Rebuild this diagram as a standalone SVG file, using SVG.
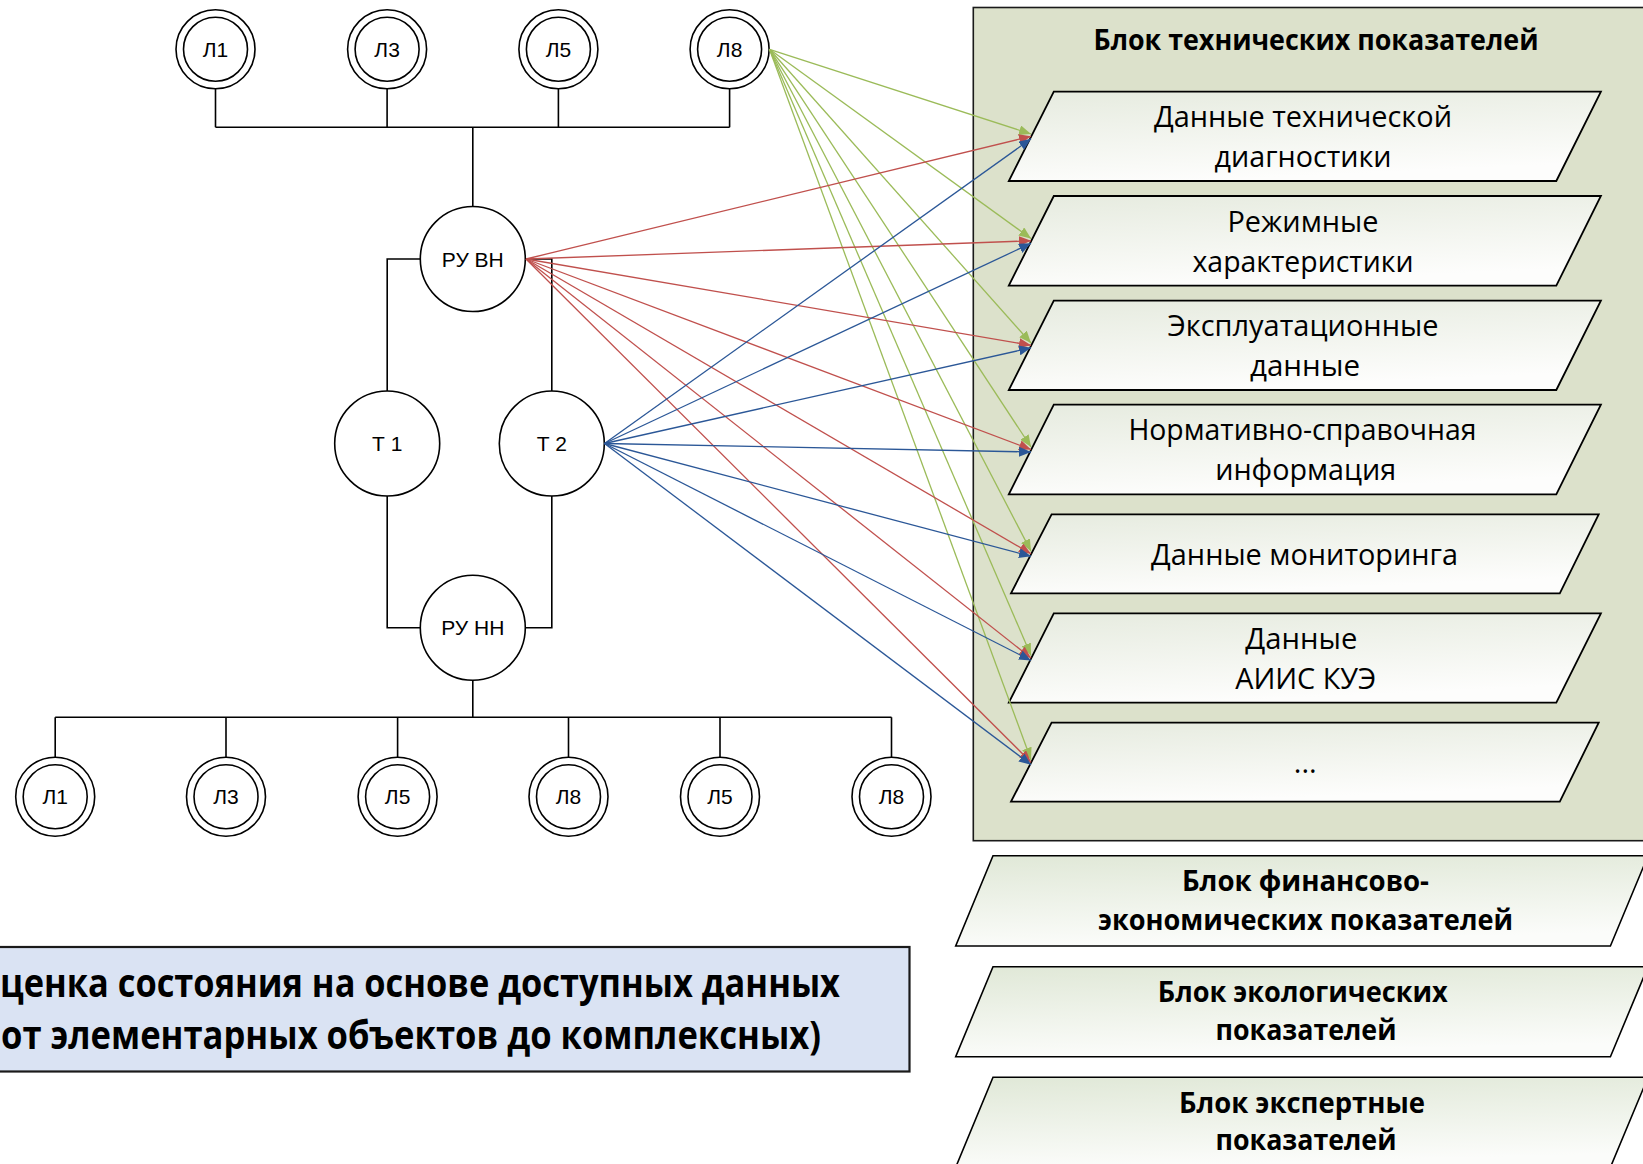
<svg xmlns="http://www.w3.org/2000/svg" width="1643" height="1164" viewBox="0 0 1643 1164">
  <defs>
    <style>
      .bg{fill:#ffffff}
      .c{fill:#ffffff;stroke:#000000;stroke-width:1.6}
      .w{fill:none;stroke:#000000;stroke-width:1.6}
      .lbl{font-family:"Liberation Sans",Arial,sans-serif;font-size:21px;fill:#000000;text-anchor:middle}
      .pt{font-family:"Open Sans","Noto Sans",sans-serif;font-size:29px;fill:#000000;text-anchor:middle}
      .bt{font-family:"Open Sans","Noto Sans",sans-serif;font-size:28px;font-weight:bold;fill:#000000;text-anchor:middle}
      .big{font-family:"Open Sans","Noto Sans",sans-serif;font-size:40px;font-weight:bold;fill:#000000}
      .par{fill:url(#gp);stroke:#000000;stroke-width:1.8}
      .parb{fill:url(#gb);stroke:#000000;stroke-width:1.6}
      .g{stroke:#9bbb59;stroke-width:1.3;fill:none;marker-end:url(#ag)}
      .r{stroke:#c0504d;stroke-width:1.3;fill:none;marker-end:url(#ar)}
      .b{stroke:#2b5797;stroke-width:1.3;fill:none;marker-end:url(#ab)}
    </style>
    <linearGradient id="gp" x1="0" y1="0" x2="0.3" y2="1">
      <stop offset="0" stop-color="#e6ebdf"/>
      <stop offset="1" stop-color="#fdfdfc"/>
    </linearGradient>
    <linearGradient id="gb" x1="0" y1="0" x2="0.2" y2="1">
      <stop offset="0" stop-color="#e0e8d7"/>
      <stop offset="1" stop-color="#fbfcfa"/>
    </linearGradient>
    <marker id="ag" viewBox="0 0 12 10" refX="12" refY="5" markerWidth="12" markerHeight="10" markerUnits="userSpaceOnUse" orient="auto"><path d="M0,0 L12,5 L0,10 z" fill="#9bbb59"/></marker>
    <marker id="ar" viewBox="0 0 12 10" refX="12" refY="5" markerWidth="12" markerHeight="10" markerUnits="userSpaceOnUse" orient="auto"><path d="M0,0 L12,5 L0,10 z" fill="#c0504d"/></marker>
    <marker id="ab" viewBox="0 0 12 10" refX="12" refY="5" markerWidth="12" markerHeight="10" markerUnits="userSpaceOnUse" orient="auto"><path d="M0,0 L12,5 L0,10 z" fill="#2b5797"/></marker>
  </defs>

  <rect class="bg" x="0" y="0" width="1643" height="1164"/>

  <!-- Technical block container -->
  <g id="tech-block">
    <rect x="973.3" y="7.5" width="720" height="833.2" fill="#dce1cb" stroke="#1a1a1a" stroke-width="1.6"/>
    <text class="bt" x="1316" y="50" textLength="445" lengthAdjust="spacingAndGlyphs">Блок технических показателей</text>
  </g>

  <!-- Wiring of the substation -->
  <g id="wiring">
    <path class="w" d="M215.5 88.8 V127.3 M387.1 88.8 V127.3 M558.4 88.8 V127.3 M729.6 88.8 V127.3 M215.5 127.3 H729.6 M472.8 127.3 V206.5"/>
    <path class="w" d="M420.3 259 H387.2 V391 M387.2 496 V627.7 H420.5"/>
    <path class="w" d="M525.5 259 H551.8 V391 M551.8 496 V627.7 H525.5"/>
    <path class="w" d="M472.8 680.2 V717.3 M55.2 717.3 H891.5 M55.2 717.3 V757.2 M226 717.3 V757.2 M397.6 717.3 V757.2 M568.5 717.3 V757.2 M720 717.3 V757.2 M891.5 717.3 V757.2"/>
  </g>

  <!-- Top lines -->
  <g id="top-L1"><circle class="c" cx="215.5" cy="49.3" r="39.5"/><circle class="c" cx="215.5" cy="49.3" r="32"/><text class="lbl" x="215.5" y="56.8">Л1</text></g>
  <g id="top-L3"><circle class="c" cx="387.1" cy="49.3" r="39.5"/><circle class="c" cx="387.1" cy="49.3" r="32"/><text class="lbl" x="387.1" y="56.8">Л3</text></g>
  <g id="top-L5"><circle class="c" cx="558.4" cy="49.3" r="39.5"/><circle class="c" cx="558.4" cy="49.3" r="32"/><text class="lbl" x="558.4" y="56.8">Л5</text></g>
  <g id="top-L8"><circle class="c" cx="729.6" cy="49.3" r="39.5"/><circle class="c" cx="729.6" cy="49.3" r="32"/><text class="lbl" x="729.6" y="56.8">Л8</text></g>

  <g id="ru-vn"><circle class="c" cx="472.8" cy="259" r="52.5"/><text class="lbl" x="472.8" y="266.5">РУ ВН</text></g>
  <g id="t1"><circle class="c" cx="387.2" cy="443.5" r="52.5"/><text class="lbl" x="387.2" y="451">Т 1</text></g>
  <g id="t2"><circle class="c" cx="551.8" cy="443.5" r="52.5"/><text class="lbl" x="551.8" y="451">Т 2</text></g>
  <g id="ru-nn"><circle class="c" cx="472.8" cy="627.7" r="52.5"/><text class="lbl" x="472.8" y="635.2">РУ НН</text></g>

  <!-- Bottom lines -->
  <g id="bot-L1"><circle class="c" cx="55.2" cy="796.7" r="39.5"/><circle class="c" cx="55.2" cy="796.7" r="32"/><text class="lbl" x="55.2" y="804.2">Л1</text></g>
  <g id="bot-L3"><circle class="c" cx="226" cy="796.7" r="39.5"/><circle class="c" cx="226" cy="796.7" r="32"/><text class="lbl" x="226" y="804.2">Л3</text></g>
  <g id="bot-L5a"><circle class="c" cx="397.6" cy="796.7" r="39.5"/><circle class="c" cx="397.6" cy="796.7" r="32"/><text class="lbl" x="397.6" y="804.2">Л5</text></g>
  <g id="bot-L8a"><circle class="c" cx="568.5" cy="796.7" r="39.5"/><circle class="c" cx="568.5" cy="796.7" r="32"/><text class="lbl" x="568.5" y="804.2">Л8</text></g>
  <g id="bot-L5b"><circle class="c" cx="720" cy="796.7" r="39.5"/><circle class="c" cx="720" cy="796.7" r="32"/><text class="lbl" x="720" y="804.2">Л5</text></g>
  <g id="bot-L8b"><circle class="c" cx="891.5" cy="796.7" r="39.5"/><circle class="c" cx="891.5" cy="796.7" r="32"/><text class="lbl" x="891.5" y="804.2">Л8</text></g>

  <!-- Data parallelograms -->
  <g id="p1"><polygon class="par" points="1053.8,91.7 1600.9,91.7 1556.3,181 1008.8,181"/>
    <text class="pt" x="1303" y="127.3" textLength="298" lengthAdjust="spacingAndGlyphs">Данные технической</text>
    <text class="pt" x="1303" y="166.7" textLength="177" lengthAdjust="spacingAndGlyphs">диагностики</text></g>
  <g id="p2"><polygon class="par" points="1053.8,196 1600.9,196 1556.3,285.7 1008.8,285.7"/>
    <text class="pt" x="1303" y="232.3" textLength="151" lengthAdjust="spacingAndGlyphs">Режимные</text>
    <text class="pt" x="1303" y="271.7" textLength="221" lengthAdjust="spacingAndGlyphs">характеристики</text></g>
  <g id="p3"><polygon class="par" points="1053.8,300.7 1600.9,300.7 1556.3,390 1008.8,390"/>
    <text class="pt" x="1303" y="336" textLength="271" lengthAdjust="spacingAndGlyphs">Эксплуатационные</text>
    <text class="pt" x="1305" y="376" textLength="110" lengthAdjust="spacingAndGlyphs">данные</text></g>
  <g id="p4"><polygon class="par" points="1053.8,404.7 1600.9,404.7 1556.3,494.3 1008.8,494.3"/>
    <text class="pt" x="1302.4" y="440" textLength="348" lengthAdjust="spacingAndGlyphs">Нормативно-справочная</text>
    <text class="pt" x="1305.7" y="480" textLength="181" lengthAdjust="spacingAndGlyphs">информация</text></g>
  <g id="p5"><polygon class="par" points="1051.6,514.3 1598.7,514.3 1559.8,593.3 1011,593.3"/>
    <text class="pt" x="1304.6" y="565" textLength="307" lengthAdjust="spacingAndGlyphs">Данные мониторинга</text></g>
  <g id="p6"><polygon class="par" points="1053.8,613.3 1600.9,613.3 1556.3,702.7 1008.8,702.7"/>
    <text class="pt" x="1301.3" y="649.3" textLength="112" lengthAdjust="spacingAndGlyphs">Данные</text>
    <text class="pt" x="1305.7" y="689.3" textLength="141" lengthAdjust="spacingAndGlyphs">АИИС КУЭ</text></g>
  <g id="p7"><polygon class="par" points="1051.6,722.7 1598.7,722.7 1559.8,801.7 1011,801.7"/>
    <text class="pt" x="1305.3" y="773.3">...</text></g>

  <!-- Other blocks -->
  <g id="fin-block"><polygon class="parb" points="993,855.7 1648,855.7 1610.4,946 955.7,946"/>
    <text class="bt" x="1305.5" y="890.7" textLength="247" lengthAdjust="spacingAndGlyphs">Блок финансово-</text>
    <text class="bt" x="1305.5" y="930" textLength="415" lengthAdjust="spacingAndGlyphs">экономических показателей</text></g>
  <g id="eco-block"><polygon class="parb" points="993,966.7 1648,966.7 1610.4,1056.7 955.7,1056.7"/>
    <text class="bt" x="1302.8" y="1001.7" textLength="290" lengthAdjust="spacingAndGlyphs">Блок экологических</text>
    <text class="bt" x="1306" y="1040" textLength="181" lengthAdjust="spacingAndGlyphs">показателей</text></g>
  <g id="exp-block"><polygon class="parb" points="993,1077.3 1648,1077.3 1610.4,1167.3 955.7,1167.3"/>
    <text class="bt" x="1302" y="1112.7" textLength="246" lengthAdjust="spacingAndGlyphs">Блок экспертные</text>
    <text class="bt" x="1306" y="1150" textLength="181" lengthAdjust="spacingAndGlyphs">показателей</text></g>

  <!-- Assessment box -->
  <g id="assessment">
    <rect x="-10" y="947" width="919.5" height="124.5" fill="#dae3f3" stroke="#1a1a1a" stroke-width="2.2"/>
    <text class="big" x="0" y="996.5" textLength="840" lengthAdjust="spacingAndGlyphs">ценка состояния на основе доступных данных</text>
    <text class="big" x="1" y="1048.5" textLength="820" lengthAdjust="spacingAndGlyphs">от элементарных объектов до комплексных)</text>
  </g>

  <!-- Connectors -->
  <g id="connectors">
    <line class="g" x1="769.5" y1="49.3" x2="1031" y2="134"/>
    <line class="g" x1="769.5" y1="49.3" x2="1031" y2="238.5"/>
    <line class="g" x1="769.5" y1="49.3" x2="1031" y2="343"/>
    <line class="g" x1="769.5" y1="49.3" x2="1031" y2="447"/>
    <line class="g" x1="769.5" y1="49.3" x2="1031" y2="551.3"/>
    <line class="g" x1="769.5" y1="49.3" x2="1031" y2="655.5"/>
    <line class="g" x1="769.5" y1="49.3" x2="1031" y2="759.7"/>

    <line class="r" x1="526" y1="259" x2="1031" y2="136.3"/>
    <line class="r" x1="526" y1="259" x2="1031" y2="240.8"/>
    <line class="r" x1="526" y1="259" x2="1031" y2="345.3"/>
    <line class="r" x1="526" y1="259" x2="1031" y2="449.5"/>
    <line class="r" x1="526" y1="259" x2="1031" y2="553.8"/>
    <line class="r" x1="526" y1="259" x2="1031" y2="658"/>
    <line class="r" x1="526" y1="259" x2="1031" y2="762.2"/>

    <line class="b" x1="604.5" y1="443.5" x2="1031" y2="138.8"/>
    <line class="b" x1="604.5" y1="443.5" x2="1031" y2="243.3"/>
    <line class="b" x1="604.5" y1="443.5" x2="1031" y2="347.8"/>
    <line class="b" x1="604.5" y1="443.5" x2="1031" y2="452"/>
    <line class="b" x1="604.5" y1="443.5" x2="1031" y2="556.3"/>
    <line class="b" x1="604.5" y1="443.5" x2="1031" y2="660.5"/>
    <line class="b" x1="604.5" y1="443.5" x2="1031" y2="764.7"/>
  </g>
</svg>
